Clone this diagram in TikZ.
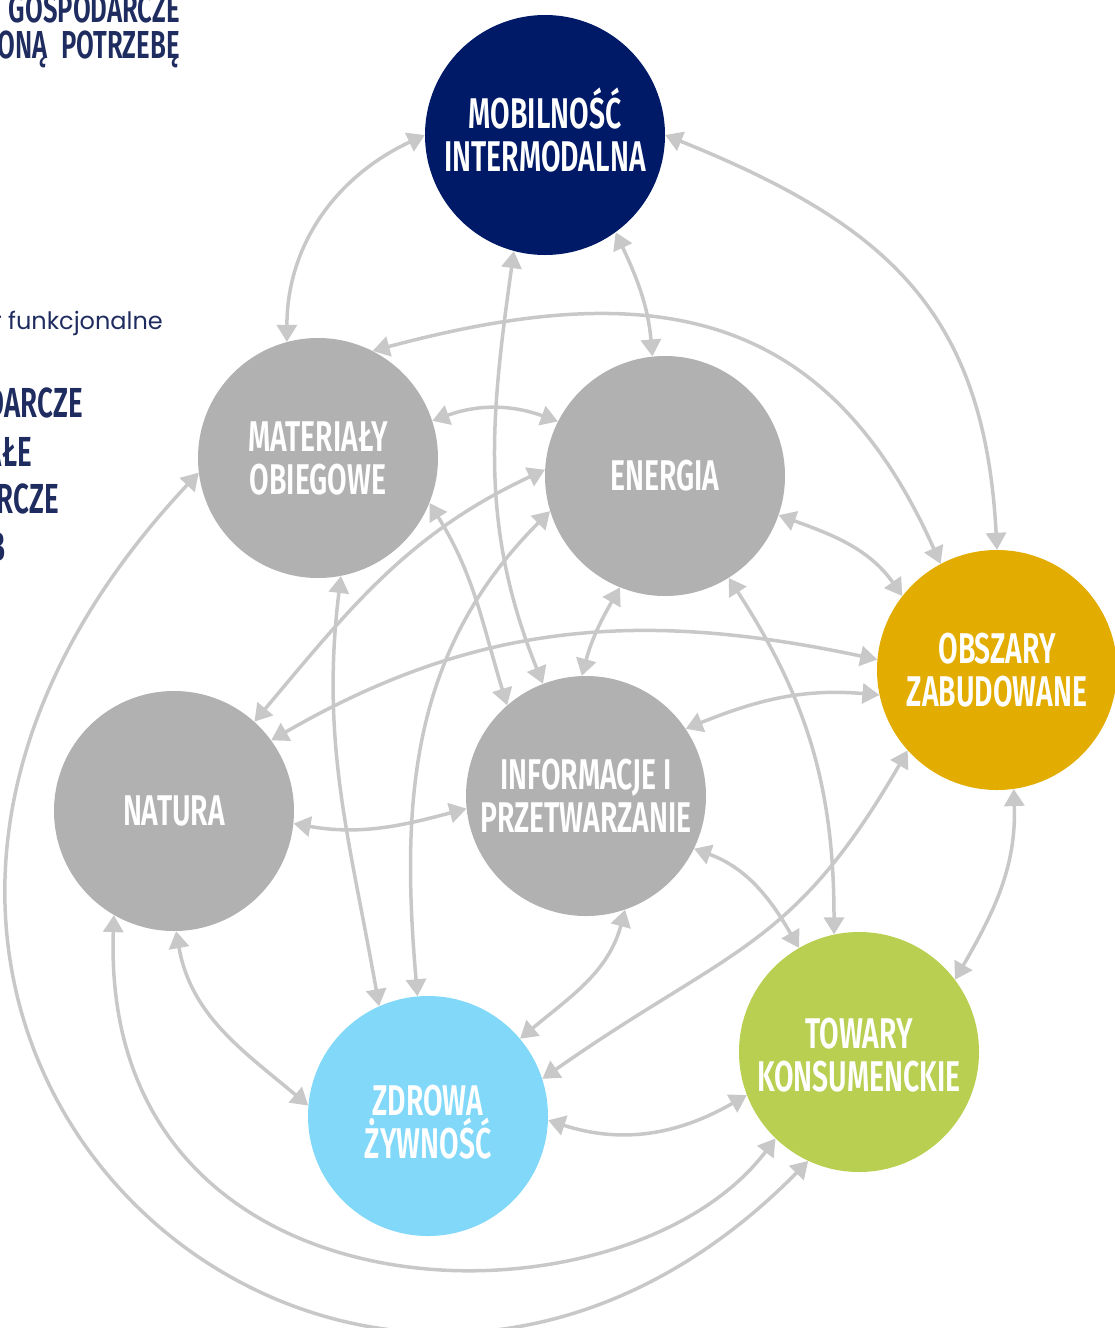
\documentclass[tikz,border=0pt]{standalone}
\usepackage{fontspec}
\usepackage{tikz}
\usetikzlibrary{arrows.meta}

\newfontfamily\labelfont[FakeStretch=0.66, UprightFont={* SemiBold}]{Fira Sans}
\newfontfamily\notefont{Poppins}
\newcommand{\capline}[2][0pt]{\raisebox{0pt}[\dimexpr0.69em+#1\relax][0pt]{#2}}

\definecolor{navy}{HTML}{001A68}
\definecolor{stone}{HTML}{B1B1B1}
\definecolor{gold}{HTML}{E3AC00}
\definecolor{lime}{HTML}{B8CF52}
\definecolor{sky}{HTML}{82D8F9}
\definecolor{wire}{HTML}{C8C8C8}
\definecolor{ink}{HTML}{1F2C5F}

\begin{document}
\begin{tikzpicture}[
        x=1pt, y=1pt,
        sector/.style = {circle, fill=#1, text=white, minimum size=240pt, inner sep=0pt, align=center,
                         font=\labelfont\fontsize{43}{43}\selectfont},
        heading/.style = {anchor=base east, text=ink, inner sep=0pt, font=\labelfont\fontsize{#1}{#1}\selectfont},
        link/.style = {<->, draw=wire, line width=3.5pt},
        >={Triangle[length=17pt, width=20pt]}
        ]

        \useasboundingbox (0,0) rectangle (1115,-1328);

        \node (head1) at (180,-22)  [heading=39] {GOSPODARCZE};
        \node (head2) at (180,-58)  [heading=39] {ONĄ\hspace{14pt}POTRZEBĘ};
        \node (note)  at (163,-329) [anchor=base east, text=ink, inner sep=0pt, font=\notefont\fontsize{24}{24}\selectfont] {r funkcjonalne};
        \node (side1) at (83,-417)  [heading=42] {DARCZE};
        \node (side2) at (32,-466)  [heading=42] {AŁE};
        \node (side3) at (59,-513)  [heading=42] {RCZE};
        \node (side4) at (6,-561)   [heading=42] {B};

        \node (mob) at (545,-135)  [sector=navy]  {\capline{MOBILNOŚĆ}\\\capline{INTERMODALNA}};
        \node (mat) at (318,-458)  [sector=stone] {\capline{MATERIAŁY}\\\capline{OBIEGOWE}};
        \node (ene) at (665,-476)  [sector=stone] {\capline{ENERGIA}};
        \node (obs) at (997,-670)  [sector=gold]  {\capline{OBSZARY}\\\capline{ZABUDOWANE}};
        \node (nat) at (174,-811)  [sector=stone] {\capline{NATURA}};
        \node (inf) at (586,-796)  [sector=stone] {\capline{INFORMACJE I}\\\capline{PRZETWARZANIE}};
        \node (zdr) at (428,-1116) [sector=sky]   {\capline[12pt]{ZDROWA}\\\capline{ŻYWNOŚĆ}};
        \node (tow) at (859,-1052) [sector=lime]  {\capline[6pt]{TOWARY}\\\capline{KONSUMENCKIE}};

        \draw[link] (mob.180) to[out=205, in=90] (mat.105);
        \draw[link] (mob.255) to[out=262, in=112] (inf.111);
        \draw[link] (mob.306) to[out=-65, in=95] (ene.96);
        \draw[link] (mob.0) to[out=-22, in=93, looseness=1.15] (obs.90);
        \draw[link] (mat.63) to[out=15, in=114, looseness=1.2] (obs.118);
        \draw[link] (mat.18) to[out=20, in=160] (ene.153);
        \draw[link] (mat.-22) to[out=-58, in=107] (inf.131);
        \draw[link] (mat.-79) to[out=-97, in=100] (zdr.114);
        \draw[link] (ene.177) to[out=205, in=50] (nat.48);
        \draw[link] (ene.197) to[out=225, in=95] (zdr.95);
        \draw[link] (ene.248) to[out=240, in=75] (inf.92);
        \draw[link] (ene.-19) to[out=-20, in=125] (obs.142);
        \draw[link] (ene.-58) to[out=-57, in=90] (tow.102);
        \draw[link] (nat.36) to[out=30, in=168] (obs.175);
        \draw[link] (inf.34) to[out=22, in=175] (obs.192);
        \draw[link] (nat.-6) to[out=-10, in=195] (inf.186);
        \draw[link] (nat.-89) to[out=-80, in=140] (zdr.175);
        \draw[link] (inf.-71) to[out=-105, in=40] (zdr.40);
        \draw[link] (inf.-26) to[out=-20, in=120] (tow.120);
        \draw[link] (obs.222) to[out=-120, in=35, looseness=1.2] (zdr.18);
        \draw[link] (obs.-82) to[out=-88, in=60] (tow.37);
        \draw[link] (zdr.-2) to[out=-18, in=210] (tow.201);
        \draw[link] (nat.240) .. controls (99,-1335) and (625,-1338) .. (tow.226);
        \draw[link] (mat.187) .. controls (-322,-1028) and (349,-1627) .. (tow.245);
    \end{tikzpicture}
\end{document}
